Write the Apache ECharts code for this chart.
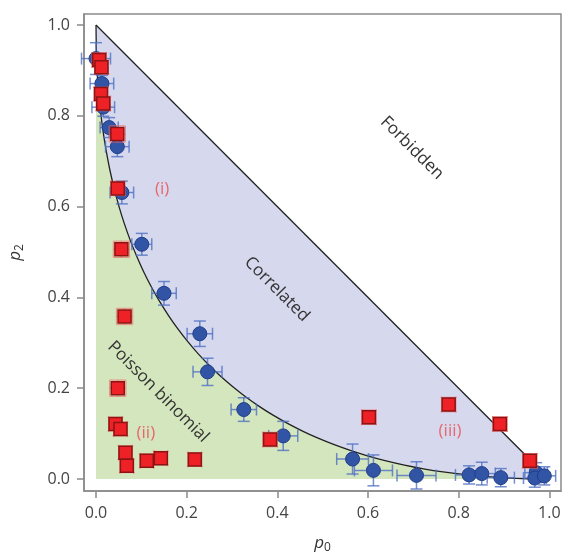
<!DOCTYPE html>
<html><head><meta charset="utf-8">
<script src="https://cdn.jsdelivr.net/npm/echarts@6/dist/echarts.min.js"></script>
<style>html,body{margin:0;padding:0;background:#fff}#c{width:562px;height:552px}</style>
</head><body><div id="c"></div>
<script>
// ---- data ----
const tickValues = [0, 0.2, 0.4, 0.6, 0.8, 1.0];

// Poisson-binomial boundary
const boundaryP0 = [0, 0.0006, 0.0025, 0.0056, 0.01, 0.0156, 0.0225, 0.0306, 0.04, 0.0506, 0.0625, 0.0756, 0.09, 0.1056, 0.1225, 0.1406, 0.16, 0.1806, 0.2025, 0.2256, 0.25, 0.2756, 0.3025, 0.3306, 0.36, 0.3906, 0.4225, 0.4556, 0.49, 0.5256, 0.5625, 0.6006, 0.64, 0.6806, 0.7225, 0.7656, 0.81, 0.8556, 0.9025, 0.9506, 1];
const boundaryP2 = [1, 0.9506, 0.9025, 0.8556, 0.81, 0.7656, 0.7225, 0.6806, 0.64, 0.6006, 0.5625, 0.5256, 0.49, 0.4556, 0.4225, 0.3906, 0.36, 0.3306, 0.3025, 0.2756, 0.25, 0.2256, 0.2025, 0.1806, 0.16, 0.1406, 0.1225, 0.1056, 0.09, 0.0756, 0.0625, 0.0506, 0.04, 0.0306, 0.0225, 0.0156, 0.01, 0.0056, 0.0025, 0.0006, 0];
const greenTopP2 = 0.81;

// blue circles (with error bars)
const blueP0 = [0.000, 0.013, 0.016, 0.029, 0.047, 0.057, 0.101, 0.150, 0.229, 0.246, 0.326, 0.413, 0.566, 0.612, 0.707, 0.823, 0.851, 0.893, 0.971, 0.968, 0.989];
const blueP2 = [0.926, 0.871, 0.819, 0.774, 0.732, 0.631, 0.517, 0.409, 0.320, 0.236, 0.153, 0.095, 0.044, 0.019, 0.008, 0.009, 0.012, 0.003, 0.014, 0.002, 0.007];
const blueErrP0 = [0.032, 0.026, 0.025, 0.020, 0.026, 0.026, 0.022, 0.027, 0.028, 0.032, 0.028, 0.032, 0.035, 0.042, 0.043, 0.030, 0.030, 0.030, 0.025, 0.025, 0.025];
const blueErrP2 = [0.035, 0.018, 0.020, 0.022, 0.022, 0.025, 0.024, 0.026, 0.028, 0.030, 0.026, 0.032, 0.033, 0.034, 0.030, 0.020, 0.025, 0.020, 0.022, 0.020, 0.020];

// red squares
const redP0 = [0.007, 0.012, 0.011, 0.016, 0.047, 0.048, 0.056, 0.063, 0.048, 0.043, 0.054, 0.065, 0.068, 0.112, 0.143, 0.218, 0.384, 0.602, 0.778, 0.891, 0.957];
const redP2 = [0.923, 0.907, 0.848, 0.827, 0.760, 0.640, 0.506, 0.358, 0.200, 0.121, 0.110, 0.058, 0.029, 0.040, 0.046, 0.043, 0.087, 0.136, 0.164, 0.121, 0.040];
const redErrP0 = [0.016, 0.015, 0.015, 0.016, 0.018, 0.016, 0.018, 0.018, 0.018, 0.015, 0.015, 0.015, 0.015, 0.015, 0.015, 0.015, 0.016, 0.016, 0.016, 0.016, 0.016];
const redErrP2 = [0.016, 0.015, 0.015, 0.016, 0.018, 0.016, 0.018, 0.018, 0.018, 0.015, 0.015, 0.015, 0.015, 0.015, 0.015, 0.015, 0.016, 0.016, 0.016, 0.016, 0.016];

// region / case labels
const labelTexts = ['Forbidden', 'Correlated', 'Poisson binomial', '(i)', '(ii)', '(iii)'];
const labelP0 = [0.697, 0.399, 0.137, 0.146, 0.110, 0.781];
const labelP2 = [0.729, 0.418, 0.192, 0.639, 0.101, 0.106];

// ---- chart ----
const FONT = '"Open Sans", "Noto Sans", sans-serif';
const chart = echarts.init(document.getElementById('c'), null, {renderer: 'canvas'});

const blueData = blueP0.map((x, i) => [x, blueP2[i], blueErrP0[i], blueErrP2[i]]);
const redData = redP0.map((x, i) => [x, redP2[i], redErrP0[i], redErrP2[i]]);
const labelData = labelP0.map((x, i) => [x, labelP2[i], i]);

function errRender(color, cap, lw) {
  return function (params, api) {
    const x = api.value(0), y = api.value(1), ex = api.value(2), ey = api.value(3);
    const l = api.coord([x - ex, y]), r = api.coord([x + ex, y]);
    const t = api.coord([x, y + ey]), b = api.coord([x, y - ey]);
    const st = {stroke: color, lineWidth: lw};
    const h = cap / 2;
    return {type: 'group', children: [
      {type: 'line', shape: {x1: l[0], y1: l[1], x2: r[0], y2: r[1]}, style: st},
      {type: 'line', shape: {x1: l[0], y1: l[1] - h, x2: l[0], y2: l[1] + h}, style: st},
      {type: 'line', shape: {x1: r[0], y1: r[1] - h, x2: r[0], y2: r[1] + h}, style: st},
      {type: 'line', shape: {x1: t[0], y1: t[1], x2: b[0], y2: b[1]}, style: st},
      {type: 'line', shape: {x1: t[0] - h, y1: t[1], x2: t[0] + h, y2: t[1]}, style: st},
      {type: 'line', shape: {x1: b[0] - h, y1: b[1], x2: b[0] + h, y2: b[1]}, style: st}
    ]};
  };
}

const nameRich = {
  i: {fontStyle: 'italic', fontSize: 17, fontFamily: FONT, color: '#333', lineHeight: 22, verticalAlign: 'middle'},
  s: {fontSize: 12, fontFamily: FONT, color: '#333', lineHeight: 22, verticalAlign: 'bottom'}
};

const option = {
  animation: false,
  backgroundColor: '#fff',
  grid: {left: 84, top: 14, right: 1, bottom: 61, show: true, borderColor: '#8a8a8a', borderWidth: 1.5,
         containLabel: false, outerBoundsMode: 'none'},
  xAxis: {
    type: 'value', min: -0.0265, max: 1.0258,
    name: '{i|p}{s|0}', nameLocation: 'middle', nameGap: 41,
    nameTextStyle: {color: '#333', fontFamily: FONT, rich: nameRich},
    axisLine: {show: true, onZero: false, lineStyle: {color: '#8a8a8a', width: 1.5}},
    axisTick: {show: true, inside: false, length: 7, customValues: tickValues, lineStyle: {color: '#8a8a8a', width: 1.5}},
    axisLabel: {customValues: tickValues, color: '#444', fontSize: 16, fontFamily: FONT, margin: 14, formatter: v => v.toFixed(1)},
    splitLine: {show: false}
  },
  yAxis: {
    type: 'value', min: -0.0264, max: 1.0242,
    name: '{i|p}{s|2}', nameLocation: 'middle', nameGap: 58, nameRotate: 90,
    nameTextStyle: {color: '#333', fontFamily: FONT, rich: nameRich},
    axisLine: {show: true, onZero: false, lineStyle: {color: '#8a8a8a', width: 1.5}},
    axisTick: {show: true, inside: false, length: 7, customValues: tickValues, lineStyle: {color: '#8a8a8a', width: 1.5}},
    axisLabel: {customValues: tickValues, color: '#444', fontSize: 16, fontFamily: FONT, margin: 14, formatter: v => v.toFixed(1)},
    splitLine: {show: false}
  },
  series: [
    { // regions
      type: 'custom', z: 1, silent: true, clip: false,
      data: [[0, 0]],
      renderItem: function (params, api) {
        const tri = [api.coord([0, 0]), api.coord([0, 1]), api.coord([1, 0])];
        const g = [api.coord([0, 0]), api.coord([0, greenTopP2])];
        for (let i = 0; i < boundaryP0.length; i++) {
          if (boundaryP2[i] <= greenTopP2) g.push(api.coord([boundaryP0[i], boundaryP2[i]]));
        }
        return {type: 'group', children: [
          {type: 'polygon', shape: {points: tri}, style: {fill: '#d6d9ee'}},
          {type: 'polygon', shape: {points: g}, style: {fill: '#d4e6be'}}
        ]};
      }
    },
    { // diagonal limit
      type: 'line', z: 2, silent: true, symbol: 'none',
      data: [[0, 1], [1, 0]],
      lineStyle: {color: '#222', width: 1.3}
    },
    { // Poisson-binomial boundary
      type: 'line', z: 2, silent: true, symbol: 'none', smooth: 0.2,
      data: boundaryP0.map((x, i) => [x, boundaryP2[i]]),
      lineStyle: {color: '#222', width: 1.3}
    },
    { // blue error bars
      type: 'custom', z: 3, silent: true,
      data: blueData, encode: {x: 0, y: 1},
      renderItem: errRender('rgba(80,112,194,0.8)', 12, 1.5)
    },
    { // blue circles
      type: 'scatter', z: 4, symbol: 'circle', symbolSize: 14,
      data: blueData.map(d => [d[0], d[1]]),
      itemStyle: {color: '#3254a4', borderColor: '#203e8c', borderWidth: 1, opacity: 1}
    },
    { // red error bars
      type: 'custom', z: 5, silent: true,
      data: redData, encode: {x: 0, y: 1},
      renderItem: errRender('rgba(242,100,100,0.7)', 16, 1)
    },
    { // red squares
      type: 'scatter', z: 6, symbol: 'rect', symbolSize: 13,
      data: redData.map(d => [d[0], d[1]]),
      itemStyle: {color: '#ee2127', borderColor: '#8c1414', borderWidth: 1.5, opacity: 1}
    },
    { // labels
      type: 'custom', z: 7, silent: true, clip: false,
      data: labelData, encode: {x: 0, y: 1},
      renderItem: function (params, api) {
        const i = api.value(2);
        const p = api.coord([api.value(0), api.value(1)]);
        const region = i < 3;
        return {
          type: 'text', x: p[0], y: p[1],
          rotation: region ? -Math.PI / 4 : 0,
          style: {
            text: labelTexts[i], fill: region ? '#333' : '#e8676c',
            font: '17px ' + FONT, align: 'center', verticalAlign: 'middle'
          }
        };
      }
    }
  ]
};
chart.setOption(option);
</script>
</body></html>
